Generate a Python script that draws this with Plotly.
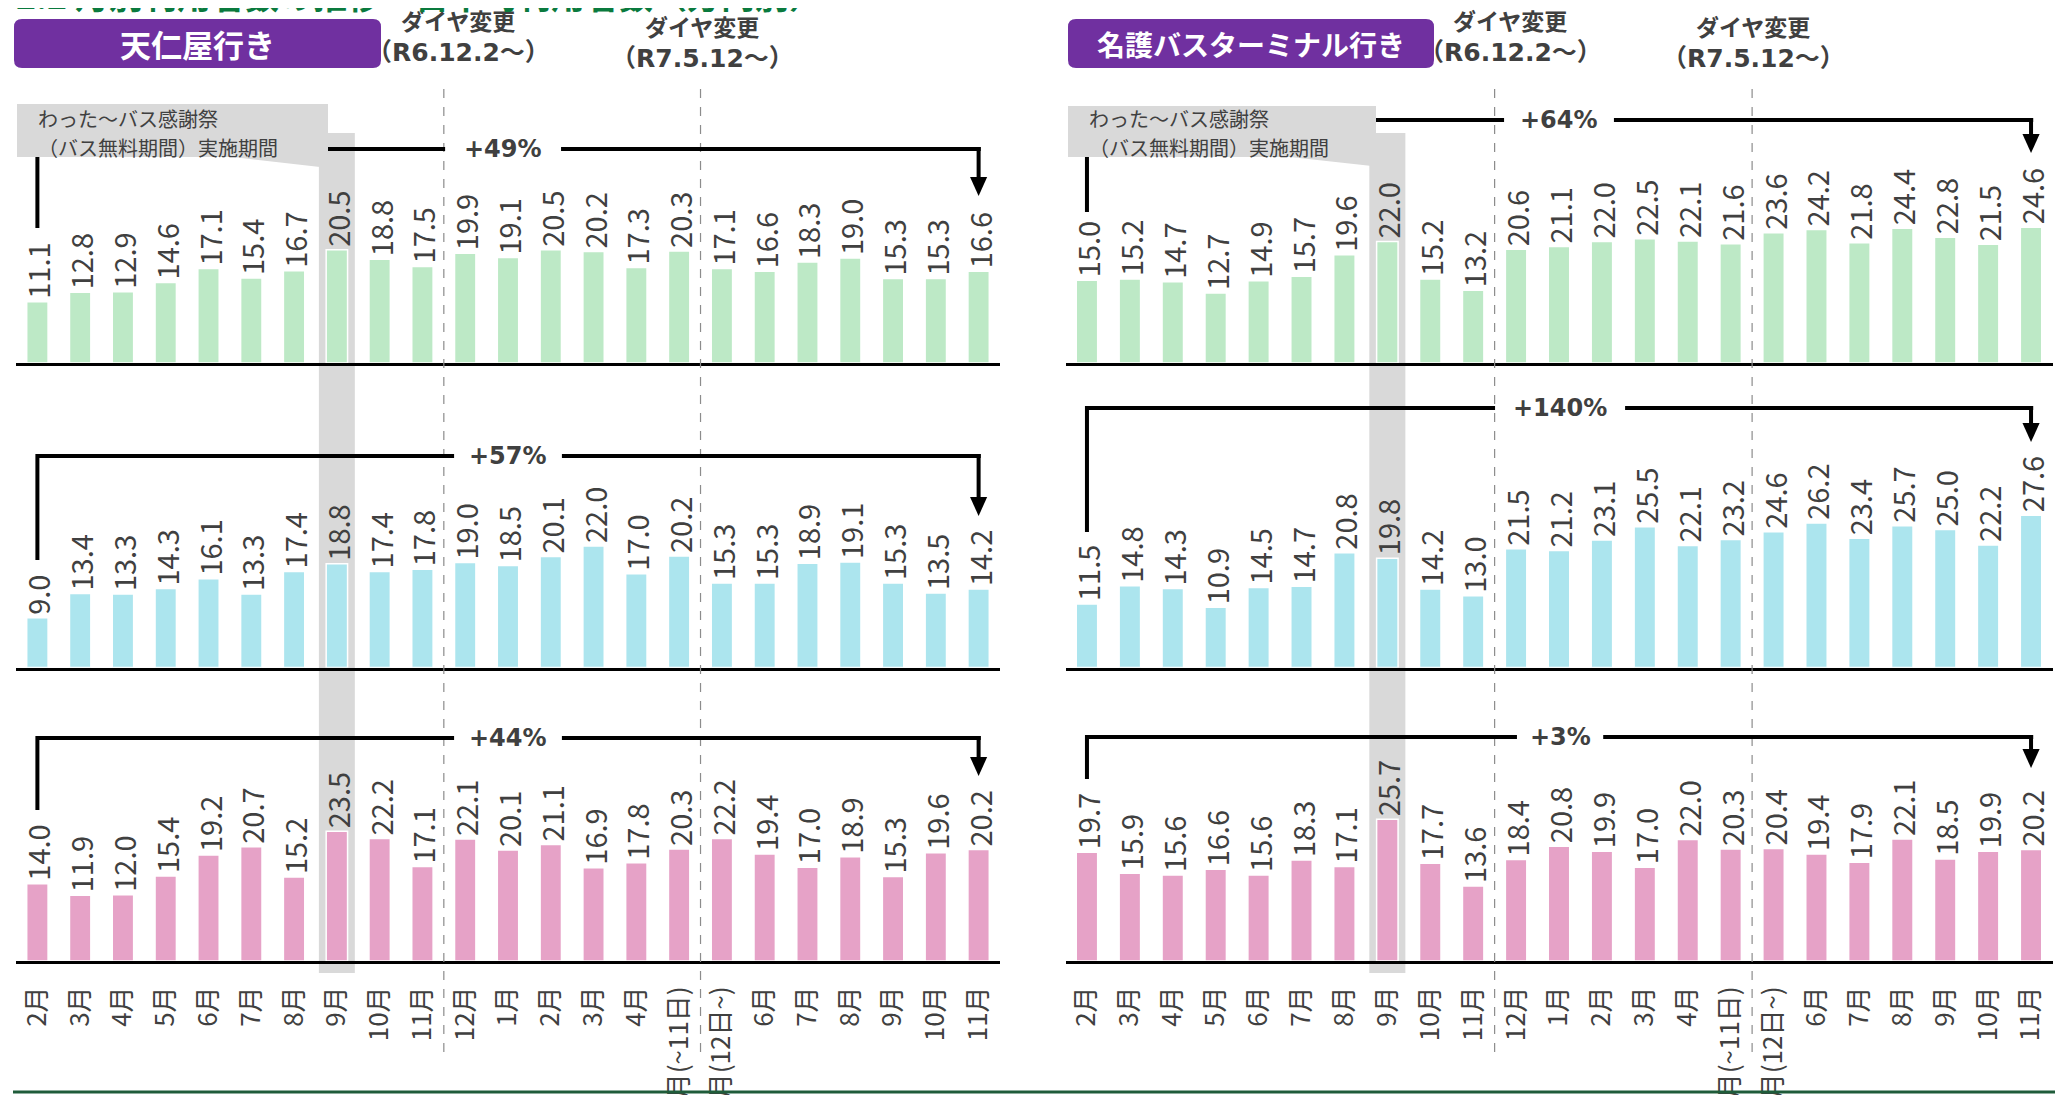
import plotly.graph_objects as go

W, H = 2063, 1095
OFF = 8  # the page body adds an 8px margin around the figure

months = ["2月", "3月", "4月", "5月", "6月", "7月", "8月", "9月", "10月", "11月",
          "12月", "1月", "2月", "3月", "4月", "5月(~11日)", "5月(12日~)",
          "6月", "7月", "8月", "9月", "10月", "11月"]

# 天仁屋行き
tenninya_row1 = [11.1, 12.8, 12.9, 14.6, 17.1, 15.4, 16.7, 20.5, 18.8, 17.5, 19.9, 19.1,
                 20.5, 20.2, 17.3, 20.3, 17.1, 16.6, 18.3, 19.0, 15.3, 15.3, 16.6]
tenninya_row2 = [9.0, 13.4, 13.3, 14.3, 16.1, 13.3, 17.4, 18.8, 17.4, 17.8, 19.0, 18.5,
                 20.1, 22.0, 17.0, 20.2, 15.3, 15.3, 18.9, 19.1, 15.3, 13.5, 14.2]
tenninya_row3 = [14.0, 11.9, 12.0, 15.4, 19.2, 20.7, 15.2, 23.5, 22.2, 17.1, 22.1, 20.1,
                 21.1, 16.9, 17.8, 20.3, 22.2, 19.4, 17.0, 18.9, 15.3, 19.6, 20.2]
# 名護バスターミナル行き
nago_row1 = [15.0, 15.2, 14.7, 12.7, 14.9, 15.7, 19.6, 22.0, 15.2, 13.2, 20.6, 21.1,
             22.0, 22.5, 22.1, 21.6, 23.6, 24.2, 21.8, 24.4, 22.8, 21.5, 24.6]
nago_row2 = [11.5, 14.8, 14.3, 10.9, 14.5, 14.7, 20.8, 19.8, 14.2, 13.0, 21.5, 21.2,
             23.1, 25.5, 22.1, 23.2, 24.6, 26.2, 23.4, 25.7, 25.0, 22.2, 27.6]
nago_row3 = [19.7, 15.9, 15.6, 16.6, 15.6, 18.3, 17.1, 25.7, 17.7, 13.6, 18.4, 20.8,
             19.9, 17.0, 22.0, 20.3, 20.4, 19.4, 17.9, 22.1, 18.5, 19.9, 20.2]

pct_labels = ["+49%", "+57%", "+44%", "+64%", "+140%", "+3%"]

GREEN, CYAN, PINK = "#BDE9C6", "#ACE5EE", "#E6A2C7"
TXT = "#404040"
JP = "Noto Sans CJK JP"
BOLDF = "DejaVu Sans, Noto Sans CJK JP"

FW, FH = W - OFF, H - OFF


def px(p):
    return (p - OFF) / FW


def py(p):
    return 1 - (p - OFF) / FH


def note(x, y, text, font, xref="paper", xanchor="center"):
    return dict(xref=xref, yref="paper", x=x, y=y, text=text, showarrow=False,
                xanchor=xanchor, yanchor="middle", font=font)


left_dom = [px(16), px(1000)]
right_dom = [px(1065.5), px(2052.5)]
row_bottom = [363, 667.5, 961]
PLOT_H = 250
YMAX = PLOT_H / 5.52
idx = list(range(len(months)))

panels = [
    (left_dom, 0, tenninya_row1, GREEN),
    (left_dom, 1, tenninya_row2, CYAN),
    (left_dom, 2, tenninya_row3, PINK),
    (right_dom, 0, nago_row1, GREEN),
    (right_dom, 1, nago_row2, CYAN),
    (right_dom, 2, nago_row3, PINK),
]

fig = go.Figure()
layout = {}
for i, (xdom, row, vals, color) in enumerate(panels, start=1):
    sfx = "" if i == 1 else str(i)
    fig.add_trace(go.Bar(
        x=idx, y=vals, xaxis="x" + sfx, yaxis="y" + sfx,
        width=0.5, marker=dict(color=color, line=dict(color="white", width=1.5)),
        texttemplate="%{y:.1f}", textposition="outside", textangle=-90,
        textfont=dict(family=JP, size=29, color=TXT),
        constraintext="none", cliponaxis=False, hoverinfo="skip",
    ))
    bottom = row_bottom[row]
    layout["xaxis" + sfx] = dict(
        domain=xdom, anchor="y" + sfx, range=[-0.5, 22.5], automargin=False,
        showline=True, linecolor="black", linewidth=3, showgrid=False, zeroline=False,
        ticks="", tickmode="array", tickvals=idx, ticktext=months,
        showticklabels=(row == 2), tickangle=-90, ticklabelstandoff=12,
        tickfont=dict(family=JP, size=26, color=TXT),
    )
    layout["yaxis" + sfx] = dict(
        domain=[py(bottom), py(bottom - PLOT_H)], anchor="x" + sfx, automargin=False,
        range=[0, YMAX], visible=False,
    )

shapes = []
annotations = []

# grey band for 9月 (bus free period)
for xr in ["x", "x4"]:
    shapes.append(dict(type="rect", xref=xr, yref="paper", x0=7 - 0.42, x1=7 + 0.42,
                       y0=py(973), y1=py(133), fillcolor="#D9D9D9", line_width=0,
                       layer="below"))

# dashed lines for timetable changes
for xr in ["x", "x4"]:
    for xv in [9.5, 15.5]:
        shapes.append(dict(type="line", xref=xr, yref="paper", x0=xv, x1=xv,
                           y0=py(89), y1=py(1060),
                           line=dict(color="#8C8C8C", width=1.2, dash="dash")))

# brackets with arrows
brackets = [
    ("x", 149, 228, 196, 9.53, 12.24),
    ("x2", 456, 560, 516, 9.74, 12.26),
    ("x3", 738, 810, 776, 9.74, 12.26),
    ("x4", 120, 212, 153, 9.72, 12.28),
    ("x5", 408, 532, 442, 9.51, 12.54),
    ("x6", 737, 779, 768, 10.02, 12.03),
]
LW = 4
last = len(months) - 1
for (xr, yl, yleft, ytip, gl, gr), lab in zip(brackets, pct_labels):
    ln = dict(color="black", width=LW)
    shapes.append(dict(type="line", xref=xr, yref="paper", x0=0, x1=0,
                       y0=py(yl - LW / 2), y1=py(yleft), line=ln))
    shapes.append(dict(type="line", xref=xr, yref="paper", x0=0, x1=gl,
                       y0=py(yl), y1=py(yl), line=ln))
    shapes.append(dict(type="line", xref=xr, yref="paper", x0=gr, x1=last + 0.05,
                       y0=py(yl), y1=py(yl), line=ln))
    shapes.append(dict(type="line", xref=xr, yref="paper", x0=last, x1=last,
                       y0=py(yl - LW / 2), y1=py(ytip - 16), line=ln))
    shapes.append(dict(type="path", xref=xr, yref="paper",
                       path=f"M {last - 0.2},{py(ytip - 19)} L {last + 0.2},{py(ytip - 19)} "
                            f"L {last},{py(ytip)} Z",
                       fillcolor="black", line_width=0))
    annotations.append(note((gl + gr) / 2, py(yl), f"<b>{lab}</b>",
                            dict(family=BOLDF, size=24, color=TXT), xref=xr))

# callout boxes (drawn after brackets so they hide the line)
for (bx0, bx1, by0, by1, wx0, wx1, wy) in [(17, 328, 104, 157, 233, 320, 167),
                                             (1068, 1376, 106, 157, 1290, 1372, 166)]:
    shapes.append(dict(type="rect", xref="paper", yref="paper", x0=px(bx0), x1=px(bx1),
                       y0=py(by1), y1=py(by0), fillcolor="#D9D9D9", line_width=0))
    shapes.append(dict(type="path", xref="paper", yref="paper",
                       path=f"M {px(wx0)},{py(by1)} L {px(wx1)},{py(by1)} L {px(wx1)},{py(wy)} Z",
                       fillcolor="#D9D9D9", line_width=0))
for x0 in [36, 1087]:
    annotations.append(note(px(x0), py(118), "わった～バス感謝祭",
                            dict(family=JP, size=20, color=TXT), xanchor="left"))
    annotations.append(note(px(x0), py(147), "（バス無料期間）実施期間",
                            dict(family=JP, size=20, color=TXT), xanchor="left"))


# purple title boxes
def rrect(x0, y0, x1, y1, r):
    pts = [("M", x0 + r, y0), ("L", x1 - r, y0), ("Q", x1, y0, x1, y0 + r),
           ("L", x1, y1 - r), ("Q", x1, y1, x1 - r, y1), ("L", x0 + r, y1),
           ("Q", x0, y1, x0, y1 - r), ("L", x0, y0 + r), ("Q", x0, y0, x0 + r, y0)]
    out = []
    for p in pts:
        cmd, coords = p[0], p[1:]
        xy = [f"{px(coords[k])},{py(coords[k + 1])}" for k in range(0, len(coords), 2)]
        out.append(cmd + " " + " ".join(xy))
    return " ".join(out) + " Z"


for (x0, x1, label, size) in [(14, 381, "天仁屋行き", 31), (1068, 1434, "名護バスターミナル行き", 28)]:
    shapes.append(dict(type="path", xref="paper", yref="paper", path=rrect(x0, 19, x1, 68, 8),
                       fillcolor="#7030A0", line_width=0))
    annotations.append(note(px((x0 + x1) / 2), py(44), f"<b>{label}</b>",
                            dict(family=JP, size=size, color="white")))

# timetable change labels
for (cx, y1, y2, dt) in [(458, 22, 52, "（R6.12.2～）"), (702, 28, 59, "（R7.5.12～）"),
                         (1510, 22, 52, "（R6.12.2～）"), (1753, 28, 59, "（R7.5.12～）")]:
    annotations.append(note(px(cx), py(y1), "<b>ダイヤ変更</b>",
                            dict(family=BOLDF, size=23, color=TXT)))
    annotations.append(note(px(cx), py(y2), f"<b>{dt}</b>",
                            dict(family=BOLDF, size=25, color=TXT)))

# page title (cut off at the top)
annotations.append(note(px(14), py(-6), "<b>2.2 月別利用者数の推移・日平均利用者数（方向別）</b>",
                        dict(family=JP, size=34, color="#0A7A3E"), xanchor="left"))

# bottom green rule
shapes.append(dict(type="line", xref="paper", yref="paper", x0=px(13), x1=1,
                   y0=py(1092), y1=py(1092), line=dict(color="#1F5C3A", width=3)))

fig.update_layout(
    template="none",
    width=FW, height=FH, margin=dict(l=0, r=0, t=0, b=0, autoexpand=False),
    paper_bgcolor="white", plot_bgcolor="rgba(0,0,0,0)", showlegend=False,
    bargap=0.5, shapes=shapes, annotations=annotations, **layout,
)

fig.write_html("out.html")
